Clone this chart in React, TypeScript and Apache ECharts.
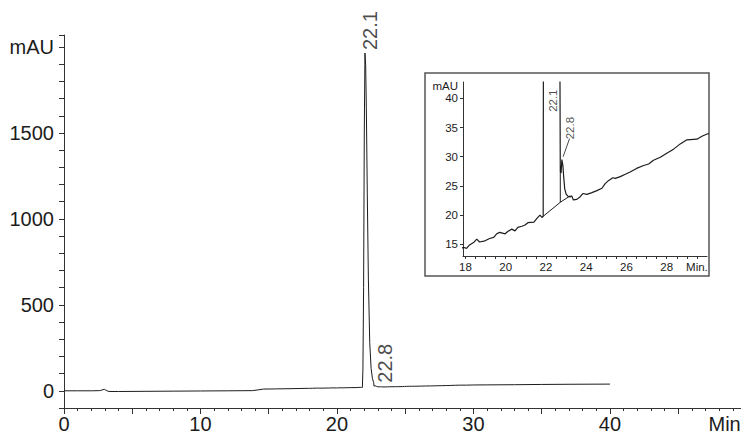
import React, { useEffect, useRef } from "react";
import * as echarts from "echarts";

// Retention time (min) and detector signal (mAU) of the chromatogram trace
const traceTime = [
  0, 1, 2, 2.6, 2.85, 2.95, 3.1, 3.3, 4, 6, 8, 10, 12, 13.8, 14.2, 14.6, 15.5, 17,
  17.9, 18.05, 18.2, 18.4, 18.56, 18.7, 18.97, 19.2, 19.4, 19.55, 19.7, 19.97, 20.1,
  20.3, 20.46, 20.6, 20.8, 20.96, 21.1, 21.4, 21.55, 21.7, 21.8, 21.86, 21.9, 21.95,
  22.0, 22.05, 22.1, 22.15, 22.22, 22.3, 22.4, 22.5, 22.6, 22.69, 22.71, 22.75, 22.79,
  22.84, 22.88, 22.93, 23.0, 23.1, 23.2, 23.28, 23.36, 23.53, 23.7, 23.83, 24.03, 24.28,
  24.53, 24.78, 24.94, 25.1, 25.32, 25.44, 25.69, 25.94, 26.18, 26.5, 26.85, 27.1,
  27.34, 27.68, 28.0, 28.34, 28.67, 29.0, 29.5, 29.75, 30.0, 31, 33, 35, 37, 40,
];
const traceValue = [
  0, 0, 0, 1, 6, 9, 2, -4, -4, -3, -2, -1, 0, 1, 5, 10, 11, 13,
  14.5, 14.3, 14.9, 15.3, 15.9, 15.4, 15.6, 16.0, 16.2, 16.8, 17.05, 16.8, 17.2,
  17.6, 17.3, 17.9, 18.1, 18.3, 18.7, 18.8, 19.45, 20.0, 19.6, 19.8, 120, 600,
  1500, 1965, 1900, 1650, 1150, 650, 280, 130, 70, 48, 27.5, 27.2, 29.5,
  28.5, 26.5, 24.5, 23.6, 23.2, 23.1, 23.3, 22.6, 22.7, 23.15, 23.7, 23.56, 23.85,
  24.2, 24.6, 25.4, 25.9, 26.4, 26.3, 26.6, 27.0, 27.4, 28.0, 28.5, 28.75,
  29.4, 29.9, 30.6, 31.3, 32.2, 32.9, 33.0, 33.5, 33.9, 34.5, 35.5, 37, 38, 39,
];

// Peak annotations
const peakLabels = ["22.1", "22.8"];
const peakTime = [22.05, 22.79];
const peakValue = [1965, 29.5];

// Integration baseline and drop line (inset)
const baseTime = [21.86, 22.71, 23.2];
const baseValue = [19.8, 22.2, 23.3];
const dropTime = [22.71, 22.71];
const dropValue = [22.2, 27.5];

// Main axis ticks / labels
const mainXLabels = [0, 10, 20, 30, 40, 48.4];
const mainYLabels = [0, 500, 1000, 1500, 2000];
// Inset axis ticks / labels
const insetXLabels = [18, 20, 22, 24, 26, 28, 29.5];
const insetXTicks = [18, 18.5, 19, 19.5, 20, 20.5, 21, 21.5, 22, 22.5, 23, 23.5, 24, 24.5, 25, 25.5, 26, 26.5, 27, 27.5, 28, 28.5, 29, 29.5];
const insetYLabels = [15, 20, 25, 30, 35, 40];
const insetYTicks = [15, 20, 25, 30, 35, 40];

// Inset label anchors (annotation placement) and leader line
const insetLabelTime = [22.34, 23.2];
const insetLabelValue = [39.6, 34.9];
const leaderTime = [23.17, 22.85];
const leaderValue = [33.1, 30.0];

const FONT = "'Liberation Sans', Arial, Helvetica, sans-serif";
const INK = "#1c1c1c";
const AXIS = "#333";

const zip = (a: number[], b: number[]) => a.map((v, i) => [v, b[i]]);

export default function App() {
  const ref = useRef<HTMLDivElement>(null);
  useEffect(() => {
    if (!ref.current) return;
    const chart = echarts.init(ref.current, null, { renderer: "svg" });
    const trace = zip(traceTime, traceValue);
    const option: any = {
      animation: false,
      backgroundColor: "#fff",
      textStyle: { fontFamily: FONT },
      graphic: [
        {
          type: "rect",
          shape: { x: 425, y: 73, width: 284, height: 203 },
          style: { fill: "none", stroke: "#555", lineWidth: 1.5 },
          silent: true,
        },
      ],
      grid: [
        { left: 64, top: 35, width: 677, height: 373, outerBoundsMode: "none", containLabel: false },
        { left: 463, top: 82, width: 244, height: 174, outerBoundsMode: "none", containLabel: false },
      ],
      xAxis: [
        {
          gridIndex: 0,
          type: "value",
          min: 0,
          max: 49.6,
          interval: 5,
          axisLine: { onZero: false, lineStyle: { color: AXIS, width: 1 } },
          axisTick: { show: true, length: 6, lineStyle: { color: AXIS } },
          minorTick: { show: true, splitNumber: 5, length: 3, lineStyle: { color: AXIS } },
          splitLine: { show: false },
          axisLabel: {
            customValues: mainXLabels,
            margin: 6,
            fontSize: 20,
            color: INK,
            fontFamily: FONT,
            formatter: (v: number) => (v === 48.4 ? "Min" : String(v)),
          },
        },
        {
          gridIndex: 1,
          type: "value",
          min: 17.876,
          max: 30,
          axisLine: { onZero: false, lineStyle: { color: AXIS, width: 1 } },
          axisTick: { show: true, customValues: insetXTicks, length: 3, lineStyle: { color: AXIS } },
          splitLine: { show: false },
          axisLabel: {
            customValues: insetXLabels,
            margin: 5,
            fontSize: 11.5,
            color: INK,
            fontFamily: FONT,
            formatter: (v: number) => (v === 29.5 ? "Min." : String(v)),
          },
        },
      ],
      yAxis: [
        {
          gridIndex: 0,
          type: "value",
          min: -100,
          max: 2070,
          interval: 100,
          axisLine: { show: true, onZero: false, lineStyle: { color: AXIS, width: 1 } },
          axisTick: { show: true, length: 5, lineStyle: { color: AXIS } },
          splitLine: { show: false },
          axisLabel: {
            customValues: mainYLabels,
            margin: 10,
            fontSize: 20,
            color: INK,
            fontFamily: FONT,
            formatter: (v: number) => (v === 2000 ? "mAU" : String(v)),
          },
        },
        {
          gridIndex: 1,
          type: "value",
          min: 13,
          max: 42.8,
          name: "mAU",
          nameLocation: "end",
          nameGap: -1,
          nameTextStyle: {
            align: "right",
            verticalAlign: "top",
            padding: [0, 5, 0, 0],
            fontSize: 11.5,
            color: INK,
            fontFamily: FONT,
          },
          axisLine: { show: true, onZero: false, lineStyle: { color: AXIS, width: 1 } },
          axisTick: { show: true, customValues: insetYTicks, length: 3, lineStyle: { color: AXIS } },
          splitLine: { show: false },
          axisLabel: {
            customValues: insetYLabels,
            margin: 5,
            fontSize: 11.5,
            color: INK,
            fontFamily: FONT,
          },
        },
      ],
      series: [
        {
          type: "line",
          xAxisIndex: 0,
          yAxisIndex: 0,
          data: trace,
          showSymbol: false,
          lineStyle: { color: INK, width: 1 },
          silent: true,
        },
        {
          type: "scatter",
          xAxisIndex: 0,
          yAxisIndex: 0,
          symbolSize: 1,
          itemStyle: { color: "rgba(0,0,0,0)" },
          silent: true,
          data: peakLabels.map((name, i) => ({
            value: [peakTime[i], peakValue[i]],
            label: {
              show: true,
              formatter: name,
              position: "inside",
              rotate: 90,
              align: "left",
              verticalAlign: "middle",
              offset: i === 0 ? [3, 5] : [3, 10],
              fontSize: 20,
              color: INK,
              fontFamily: FONT,
            },
          })),
        },
        {
          type: "line",
          xAxisIndex: 1,
          yAxisIndex: 1,
          data: trace,
          showSymbol: false,
          clip: true,
          lineStyle: { color: INK, width: 1.2 },
          silent: true,
        },
        {
          type: "line",
          xAxisIndex: 1,
          yAxisIndex: 1,
          data: zip(baseTime, baseValue),
          showSymbol: false,
          lineStyle: { color: INK, width: 1 },
          silent: true,
        },
        {
          type: "line",
          xAxisIndex: 1,
          yAxisIndex: 1,
          data: zip(dropTime, dropValue),
          showSymbol: false,
          lineStyle: { color: INK, width: 1 },
          silent: true,
        },
        {
          type: "line",
          xAxisIndex: 1,
          yAxisIndex: 1,
          data: zip(leaderTime, leaderValue),
          showSymbol: false,
          lineStyle: { color: INK, width: 0.8 },
          silent: true,
        },
        {
          type: "scatter",
          xAxisIndex: 1,
          yAxisIndex: 1,
          symbolSize: 1,
          itemStyle: { color: "rgba(0,0,0,0)" },
          silent: true,
          data: peakLabels.map((name, i) => ({
            value: [insetLabelTime[i], insetLabelValue[i]],
            label: {
              show: true,
              formatter: name,
              position: "inside",
              rotate: 90,
              align: "center",
              verticalAlign: "middle",
              fontSize: 11.5,
              color: INK,
              fontFamily: FONT,
            },
          })),
        },
      ],
    };
    chart.setOption(option);
    return () => chart.dispose();
  }, []);
  return (
    <div
      ref={ref}
      style={{ position: "fixed", left: 0, top: 0, width: 741, height: 436, background: "#fff" }}
    />
  );
}
